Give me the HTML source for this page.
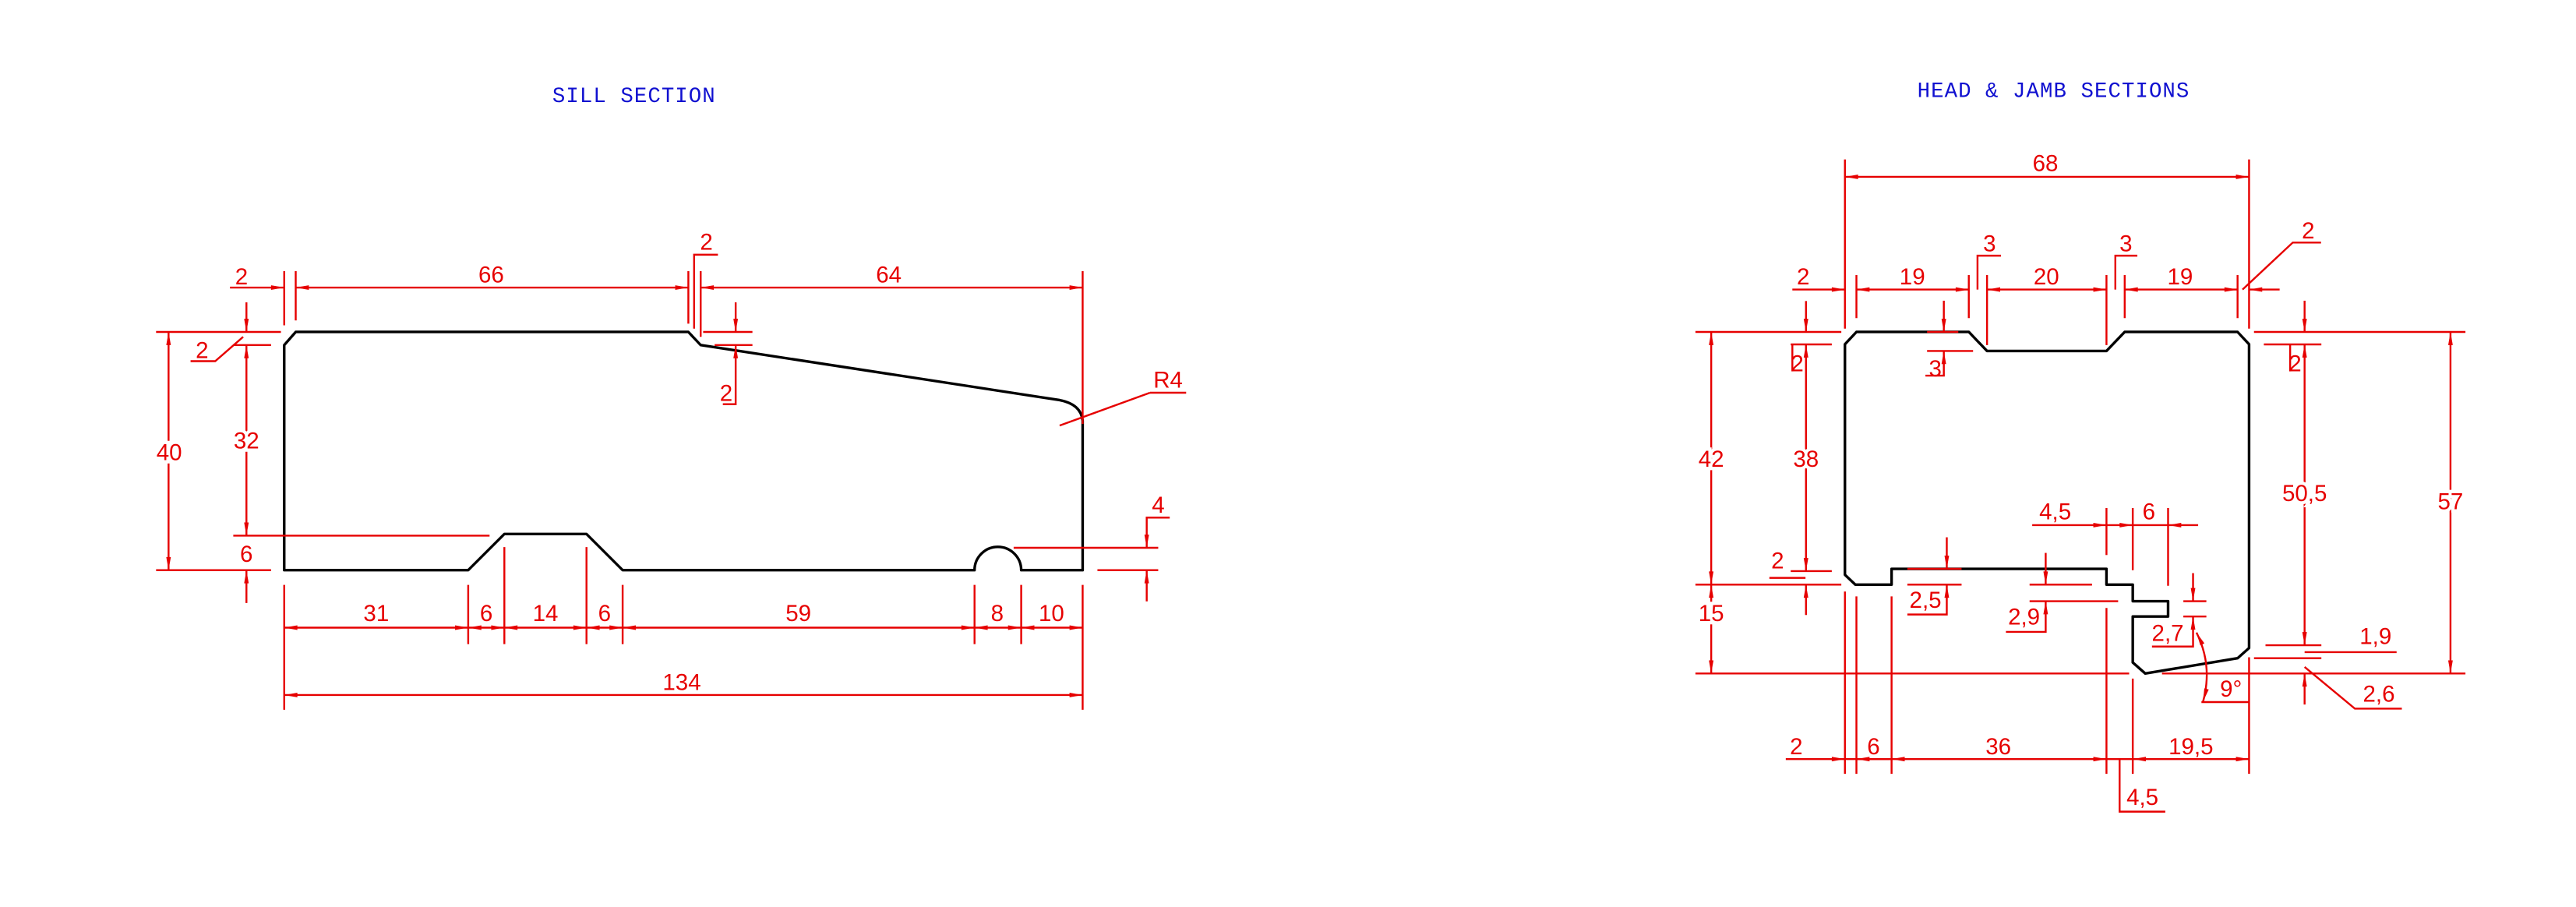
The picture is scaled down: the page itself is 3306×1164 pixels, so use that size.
<!DOCTYPE html>
<html><head><meta charset="utf-8"><style>
html,body{margin:0;padding:0;background:#fff;}
svg{display:block;}
text{font-family:"Liberation Sans",sans-serif;font-size:14px;fill:#e60000;text-anchor:middle;}
.t{fill:#1010d0;font-family:"Liberation Mono",monospace;font-size:13px;letter-spacing:0.5px;}
.w{stroke:#fff;stroke-width:4;paint-order:stroke;}
.r{stroke:#e60000;stroke-width:1.15;fill:none;}
.k{stroke:#000;stroke-width:1.6;fill:none;stroke-linejoin:round;}
</style></head><body>
<svg width="3306" height="1164" viewBox="0 0 1568 552" xmlns="http://www.w3.org/2000/svg">
<defs>
<marker id="a" markerUnits="userSpaceOnUse" markerWidth="10" markerHeight="6" refX="8" refY="3" orient="auto-start-reverse" viewBox="0 0 8 6"><path d="M0,1.6 L8,3 L0,4.4z" fill="#e60000"/></marker>
</defs>

<text class="t" x="386" y="62">SILL SECTION</text>
<text class="t" x="1250" y="59">HEAD &amp; JAMB SECTIONS</text>

<!-- ===== SILL ===== -->
<path class="k" d="M173,347 L173,210 L180,202 L419,202 L426.5,210 L645,243.5 Q658,246 659,256 L659,347 L621.6,347 A14.2,14.2 0 0 0 593.2,347 L379,347 L357,325 L307,325 L285,347 Z"/>
<g class="r">
<line x1="140" y1="175" x2="173" y2="175" marker-end="url(#a)"/>
<line x1="180" y1="175" x2="419" y2="175" marker-start="url(#a)" marker-end="url(#a)"/>
<line x1="426.5" y1="175" x2="659" y2="175" marker-start="url(#a)" marker-end="url(#a)"/>
<line x1="173" y1="165" x2="173" y2="198"/>
<line x1="180" y1="165" x2="180" y2="195"/>
<line x1="419" y1="165" x2="419" y2="197"/>
<polyline points="422.5,200 422.5,155 437,155"/>
<line x1="426.5" y1="165" x2="426.5" y2="205"/>
<line x1="659" y1="165" x2="659" y2="258"/>
<line x1="428" y1="202" x2="458" y2="202"/>
<line x1="435" y1="210" x2="458" y2="210"/>
<line x1="447.8" y1="184" x2="447.8" y2="202" marker-end="url(#a)"/>
<polyline points="447.8,210 447.8,246 440,246" marker-start="url(#a)"/>
<line x1="95" y1="202" x2="171" y2="202"/>
<line x1="95" y1="347" x2="165" y2="347"/>
<line x1="102.6" y1="202" x2="102.6" y2="347" marker-start="url(#a)" marker-end="url(#a)"/>
<line x1="142" y1="210" x2="165" y2="210"/>
<line x1="142" y1="326" x2="298" y2="326"/>
<line x1="150" y1="184" x2="150" y2="202" marker-end="url(#a)"/>
<line x1="150" y1="210" x2="150" y2="326" marker-start="url(#a)" marker-end="url(#a)"/>
<line x1="150" y1="367" x2="150" y2="347" marker-end="url(#a)"/>
<polyline points="116,219.8 131,219.8 148,205"/>
<line x1="173" y1="382" x2="285" y2="382" marker-start="url(#a)" marker-end="url(#a)"/>
<line x1="285" y1="382" x2="307" y2="382" marker-start="url(#a)" marker-end="url(#a)"/>
<line x1="307" y1="382" x2="357" y2="382" marker-start="url(#a)" marker-end="url(#a)"/>
<line x1="357" y1="382" x2="379" y2="382" marker-start="url(#a)" marker-end="url(#a)"/>
<line x1="379" y1="382" x2="593.2" y2="382" marker-start="url(#a)" marker-end="url(#a)"/>
<line x1="593.2" y1="382" x2="621.6" y2="382" marker-start="url(#a)" marker-end="url(#a)"/>
<line x1="621.6" y1="382" x2="659" y2="382" marker-start="url(#a)" marker-end="url(#a)"/>
<line x1="173" y1="423" x2="659" y2="423" marker-start="url(#a)" marker-end="url(#a)"/>
<line x1="173" y1="356" x2="173" y2="432"/>
<line x1="659" y1="356" x2="659" y2="432"/>
<line x1="285" y1="356" x2="285" y2="392"/>
<line x1="307" y1="333" x2="307" y2="392"/>
<line x1="357" y1="333" x2="357" y2="392"/>
<line x1="379" y1="356" x2="379" y2="392"/>
<line x1="593.2" y1="356" x2="593.2" y2="392"/>
<line x1="621.6" y1="356" x2="621.6" y2="392"/>
<line x1="645" y1="259" x2="700" y2="239"/>
<line x1="700" y1="239" x2="722" y2="239"/>
<line x1="617" y1="333.4" x2="705" y2="333.4"/>
<line x1="668" y1="347" x2="705" y2="347"/>
<polyline points="712,315 698,315 698,333.4" marker-end="url(#a)"/>
<line x1="698" y1="366" x2="698" y2="347" marker-end="url(#a)"/>
</g>
<text x="147" y="173">2</text>
<text x="299" y="172">66</text>
<text x="541" y="172">64</text>
<text x="430" y="152">2</text>
<text x="442" y="244">2</text>
<text x="123" y="218">2</text>
<text class="w" x="103" y="280">40</text>
<text class="w" x="150" y="273">32</text>
<text class="w" x="150" y="342">6</text>
<text x="229" y="378">31</text>
<text x="296" y="378">6</text>
<text x="332" y="378">14</text>
<text x="368" y="378">6</text>
<text x="486" y="378">59</text>
<text x="607" y="378">8</text>
<text x="640" y="378">10</text>
<text x="415" y="420">134</text>
<text x="711" y="236">R4</text>
<text x="705" y="312">4</text>

<!-- ===== HEAD & JAMB ===== -->
<path class="k" d="M1123,209.5 L1130,202 L1198.4,202 L1209.5,213.6 L1282.2,213.6 L1293.3,202 L1362,202 L1369,209.5 L1369,394.4 L1362,400.6 L1305.8,409.9 L1298.2,403.2 L1298.2,375.2 L1319.7,375.2 L1319.7,365.9 L1298.2,365.9 L1298.2,355.8 L1282.2,355.8 L1282.2,346.2 L1151.4,346.2 L1151.4,355.8 L1129.3,355.8 L1123,349.8 Z"/>
<g class="r">
<line x1="1123" y1="107.6" x2="1369" y2="107.6" marker-start="url(#a)" marker-end="url(#a)"/>
<line x1="1123" y1="97" x2="1123" y2="200"/>
<line x1="1369" y1="97" x2="1369" y2="200"/>
<line x1="1091" y1="176.2" x2="1123" y2="176.2" marker-end="url(#a)"/>
<line x1="1130" y1="176.2" x2="1198.4" y2="176.2" marker-start="url(#a)" marker-end="url(#a)"/>
<line x1="1209.5" y1="176.2" x2="1282.2" y2="176.2" marker-start="url(#a)" marker-end="url(#a)"/>
<line x1="1293.3" y1="176.2" x2="1362" y2="176.2" marker-start="url(#a)" marker-end="url(#a)"/>
<line x1="1387.6" y1="176.2" x2="1369" y2="176.2" marker-end="url(#a)"/>
<line x1="1130" y1="167.4" x2="1130" y2="193.6"/>
<line x1="1198.4" y1="167.4" x2="1198.4" y2="193.6"/>
<line x1="1209.5" y1="167.4" x2="1209.5" y2="210"/>
<line x1="1282.2" y1="167.4" x2="1282.2" y2="210"/>
<line x1="1293.3" y1="167.4" x2="1293.3" y2="193.6"/>
<line x1="1362" y1="167.4" x2="1362" y2="193.6"/>
<polyline points="1203.7,176.2 1203.7,155.6 1218,155.6"/>
<polyline points="1287.6,176.2 1287.6,155.6 1301,155.6"/>
<polyline points="1365,176.2 1395.6,147.6 1412.8,147.6"/>
<line x1="1173" y1="202" x2="1192" y2="202"/>
<line x1="1173" y1="213.6" x2="1201" y2="213.6"/>
<line x1="1183.2" y1="183" x2="1183.2" y2="202" marker-end="url(#a)"/>
<polyline points="1172,228.6 1183.2,228.6 1183.2,213.6" marker-end="url(#a)"/>
<line x1="1032" y1="202" x2="1120.8" y2="202"/>
<line x1="1032" y1="355.8" x2="1120.8" y2="355.8"/>
<line x1="1032" y1="409.9" x2="1296" y2="409.9"/>
<line x1="1316" y1="409.9" x2="1500.7" y2="409.9"/>
<line x1="1041.6" y1="202" x2="1041.6" y2="355.8" marker-start="url(#a)" marker-end="url(#a)"/>
<line x1="1041.6" y1="355.8" x2="1041.6" y2="409.9" marker-start="url(#a)" marker-end="url(#a)"/>
<line x1="1090" y1="209.6" x2="1115" y2="209.6"/>
<line x1="1090" y1="347.6" x2="1115" y2="347.6"/>
<line x1="1099.3" y1="183.2" x2="1099.3" y2="202" marker-end="url(#a)"/>
<line x1="1099.3" y1="209.6" x2="1099.3" y2="347.6" marker-start="url(#a)" marker-end="url(#a)"/>
<line x1="1099.3" y1="374.3" x2="1099.3" y2="355.8" marker-end="url(#a)"/>
<polyline points="1091,226 1091,210"/>
<line x1="1077" y1="351.7" x2="1099" y2="351.7"/>
<line x1="1372" y1="202" x2="1500.7" y2="202"/>
<line x1="1378" y1="209.6" x2="1413" y2="209.6"/>
<line x1="1379" y1="392.7" x2="1413" y2="392.7"/>
<line x1="1372" y1="400.6" x2="1413" y2="400.6"/>
<line x1="1402.8" y1="183" x2="1402.8" y2="202" marker-end="url(#a)"/>
<line x1="1402.8" y1="209.6" x2="1402.8" y2="392.7" marker-start="url(#a)" marker-end="url(#a)"/>
<line x1="1402.8" y1="428.8" x2="1402.8" y2="409.9" marker-end="url(#a)"/>
<polyline points="1394,226 1394,210"/>
<line x1="1491.6" y1="202" x2="1491.6" y2="409.9" marker-start="url(#a)" marker-end="url(#a)"/>
<line x1="1402.8" y1="396.9" x2="1458.8" y2="396.9"/>
<polyline points="1402.8,405.9 1433.4,431.3 1462,431.3"/>
<line x1="1161" y1="346.2" x2="1194" y2="346.2"/>
<line x1="1161" y1="355.8" x2="1194" y2="355.8"/>
<line x1="1185" y1="327" x2="1185" y2="346.2" marker-end="url(#a)"/>
<polyline points="1161,374 1185,374 1185,355.8" marker-end="url(#a)"/>
<line x1="1235.4" y1="355.8" x2="1273.4" y2="355.8"/>
<line x1="1235.4" y1="365.9" x2="1289.3" y2="365.9"/>
<line x1="1245.2" y1="336.5" x2="1245.2" y2="355.8" marker-end="url(#a)"/>
<polyline points="1221,384.6 1245.2,384.6 1245.2,365.9" marker-end="url(#a)"/>
<line x1="1237" y1="319.6" x2="1282.2" y2="319.6" marker-end="url(#a)"/>
<line x1="1282.2" y1="319.6" x2="1298.2" y2="319.6" marker-end="url(#a)"/>
<line x1="1338" y1="319.6" x2="1319.7" y2="319.6" marker-end="url(#a)"/>
<line x1="1298.2" y1="319.6" x2="1319.7" y2="319.6"/>
<line x1="1282.2" y1="309.2" x2="1282.2" y2="337.8"/>
<line x1="1298.2" y1="309.2" x2="1298.2" y2="347"/>
<line x1="1319.7" y1="309.2" x2="1319.7" y2="356.5"/>
<line x1="1329" y1="365.9" x2="1343" y2="365.9"/>
<line x1="1329" y1="375.2" x2="1343" y2="375.2"/>
<line x1="1334.9" y1="348.8" x2="1334.9" y2="365.9" marker-end="url(#a)"/>
<polyline points="1309.9,393.5 1334.9,393.5 1334.9,375.2" marker-end="url(#a)"/>
<path d="M1337,385 Q1347,405 1341,427" marker-start="url(#a)" marker-end="url(#a)"/>
<line x1="1340" y1="427.3" x2="1369" y2="427.3"/>
<line x1="1087" y1="462" x2="1123" y2="462" marker-end="url(#a)"/>
<line x1="1123" y1="462" x2="1151.4" y2="462"/>
<line x1="1151.4" y1="462" x2="1130" y2="462" marker-end="url(#a)"/>
<line x1="1151.4" y1="462" x2="1282.2" y2="462" marker-start="url(#a)" marker-end="url(#a)"/>
<line x1="1282.2" y1="462" x2="1298.2" y2="462"/>
<line x1="1298.2" y1="462" x2="1369" y2="462" marker-start="url(#a)" marker-end="url(#a)"/>
<line x1="1123" y1="360" x2="1123" y2="471"/>
<line x1="1130" y1="363" x2="1130" y2="471"/>
<line x1="1151.4" y1="363" x2="1151.4" y2="471"/>
<line x1="1282.2" y1="370" x2="1282.2" y2="471"/>
<line x1="1298.2" y1="413" x2="1298.2" y2="471"/>
<line x1="1369" y1="400" x2="1369" y2="471"/>
<polyline points="1290.2,462 1290.2,494 1318,494"/>
</g>
<text x="1245" y="104">68</text>
<text x="1097.6" y="173">2</text>
<text x="1164" y="173">19</text>
<text x="1245.6" y="173">20</text>
<text x="1327" y="173">19</text>
<text x="1211" y="153">3</text>
<text x="1294" y="153">3</text>
<text x="1405" y="145">2</text>
<text x="1178" y="229">3</text>
<text x="1094" y="226">2</text>
<text x="1397" y="226">2</text>
<text class="w" x="1041.6" y="284">42</text>
<text class="w" x="1041.6" y="378">15</text>
<text class="w" x="1099.3" y="284">38</text>
<text x="1082" y="346">2</text>
<text class="w" x="1402.8" y="305">50,5</text>
<text class="w" x="1491.6" y="310">57</text>
<text x="1446" y="392">1,9</text>
<text x="1448" y="427">2,6</text>
<text x="1172" y="370">2,5</text>
<text x="1232" y="380">2,9</text>
<text x="1251" y="316">4,5</text>
<text x="1308" y="316">6</text>
<text x="1319.5" y="390">2,7</text>
<text x="1358" y="424">9°</text>
<text x="1093.4" y="459">2</text>
<text x="1140.4" y="459">6</text>
<text x="1216.4" y="459">36</text>
<text x="1333.6" y="459">19,5</text>
<text x="1304.1" y="490">4,5</text>
</svg>
</body></html>
